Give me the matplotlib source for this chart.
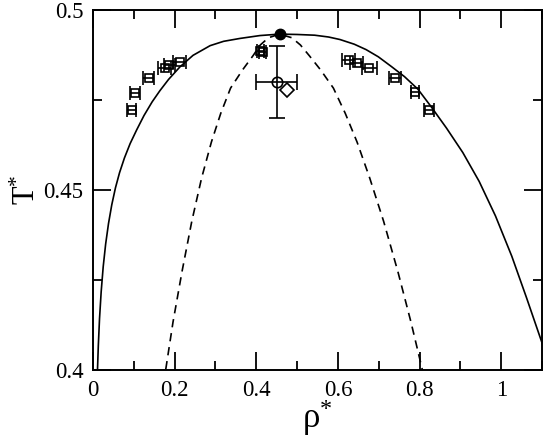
import matplotlib
matplotlib.use("Agg")
import matplotlib.pyplot as plt
from matplotlib.ticker import MultipleLocator, FormatStrFormatter

plt.rcParams['font.family'] = ['Liberation Serif', 'DejaVu Serif']
plt.rcParams['mathtext.fontset'] = 'custom'
plt.rcParams['mathtext.rm'] = 'Liberation Serif'
plt.rcParams['mathtext.it'] = 'Liberation Serif:italic'

# coexistence curve (solid)
binodal_rho = [0.011, 0.013, 0.016, 0.020, 0.025, 0.031, 0.038, 0.046, 0.055, 0.065,
               0.077, 0.091, 0.107, 0.125, 0.145, 0.164, 0.185, 0.213, 0.245, 0.287,
               0.320, 0.360, 0.409, 0.457,
               0.500, 0.543, 0.577, 0.605, 0.640, 0.669, 0.699, 0.731, 0.763, 0.796,
               0.828, 0.866, 0.906, 0.946, 0.986, 1.026, 1.062, 1.102, 1.120]
binodal_T = [0.4000, 0.4067, 0.4143, 0.4217, 0.4287, 0.4350, 0.4407, 0.4459, 0.4506, 0.4548,
             0.4589, 0.4629, 0.4667, 0.4707, 0.4745, 0.4776, 0.4807, 0.4842, 0.4874, 0.4901,
             0.4913, 0.4921, 0.4929, 0.4933,
             0.4932, 0.4930, 0.4925, 0.4918, 0.4905, 0.4890, 0.4870, 0.4843, 0.4815, 0.4780,
             0.4732, 0.4672, 0.4604, 0.4524, 0.4428, 0.4316, 0.4201, 0.4069, 0.4008]

# spinodal (dashed)
spinodal_rho = [0.173, 0.178, 0.196, 0.218, 0.242, 0.266, 0.290, 0.313, 0.337, 0.366,
                0.392, 0.410, 0.430, 0.457, 0.487, 0.508, 0.530, 0.558, 0.589, 0.618,
                0.647, 0.678, 0.712, 0.747, 0.779, 0.807, 0.815]
spinodal_T = [0.3963, 0.4000, 0.4133, 0.4273, 0.4413, 0.4533, 0.4633, 0.4713, 0.4783, 0.4833,
              0.4873, 0.4903, 0.4923, 0.4933, 0.4923, 0.4903, 0.4873, 0.4833, 0.4783, 0.4713,
              0.4633, 0.4533, 0.4413, 0.4273, 0.4133, 0.4000, 0.3963]

# simulation points (squares with density error bars)
sq_rho = [0.095, 0.103, 0.136, 0.176, 0.187, 0.213, 0.410, 0.416,
          0.626, 0.646, 0.677, 0.740, 0.789, 0.824]
sq_T = [0.4722, 0.4769, 0.4810, 0.4840, 0.4847, 0.4856, 0.4886, 0.4882,
        0.4861, 0.4852, 0.4838, 0.4812, 0.4773, 0.4722]
sq_err = [0.011, 0.012, 0.014, 0.016, 0.014, 0.016, 0.009, 0.009,
          0.016, 0.016, 0.018, 0.014, 0.010, 0.012]

# estimated critical point with error bars
circ_rho, circ_T = 0.450, 0.4801
circ_xerr, circ_yerr = 0.05, 0.010

diam_rho, diam_T = 0.476, 0.4778
crit_rho, crit_T = 0.457, 0.4933

fig = plt.figure(figsize=(5.45, 4.42), dpi=100)
ax = fig.add_axes([93 / 545, 72 / 442, 449 / 545, 360 / 442])

ax.plot(binodal_rho, binodal_T, color='black', lw=1.2)
ax.plot(spinodal_rho, spinodal_T, color='black', lw=1.2, ls=(0, (5, 3.5)))

ax.errorbar(sq_rho, sq_T, xerr=sq_err, fmt='s', ms=6, mfc='none', mec='black', mew=1.2,
            ecolor='black', elinewidth=1.2, capsize=5, capthick=1.2)
ax.errorbar([circ_rho], [circ_T], xerr=[circ_xerr], yerr=[circ_yerr], fmt='o', ms=7.5,
            mfc='none', mec='black', mew=1.2, ecolor='black', elinewidth=1.2,
            capsize=6, capthick=1.2)
ax.plot([diam_rho], [diam_T], 'D', ms=7, mfc='white', mec='black', mew=1.2)
ax.plot([crit_rho], [crit_T], 'o', ms=7.5, color='black')

ax.set_xlim(0, 1.1)
ax.set_ylim(0.4, 0.5)
ax.xaxis.set_major_locator(MultipleLocator(0.2))
ax.xaxis.set_minor_locator(MultipleLocator(0.1))
ax.yaxis.set_major_locator(MultipleLocator(0.05))
ax.yaxis.set_minor_locator(MultipleLocator(0.025))
ax.xaxis.set_major_formatter(FormatStrFormatter('%g'))
ax.yaxis.set_major_formatter(FormatStrFormatter('%g'))
ax.tick_params(which='both', direction='in', top=True, right=True, width=1.3,
               labelsize=16.5, pad=7)
ax.tick_params(which='major', length=13)
ax.tick_params(which='minor', length=6.5)
for sp in ax.spines.values():
    sp.set_linewidth(1.4)

ax.set_xlabel(r'$\mathrm{\rho}^{*}$', fontsize=25)
ax.set_ylabel(r'$\mathrm{T}^{*}$', fontsize=22)
ax.xaxis.set_label_coords(0.5, -0.075)
ax.yaxis.set_label_coords(-0.113, 0.5)

fig.savefig('out.png', dpi=100)
